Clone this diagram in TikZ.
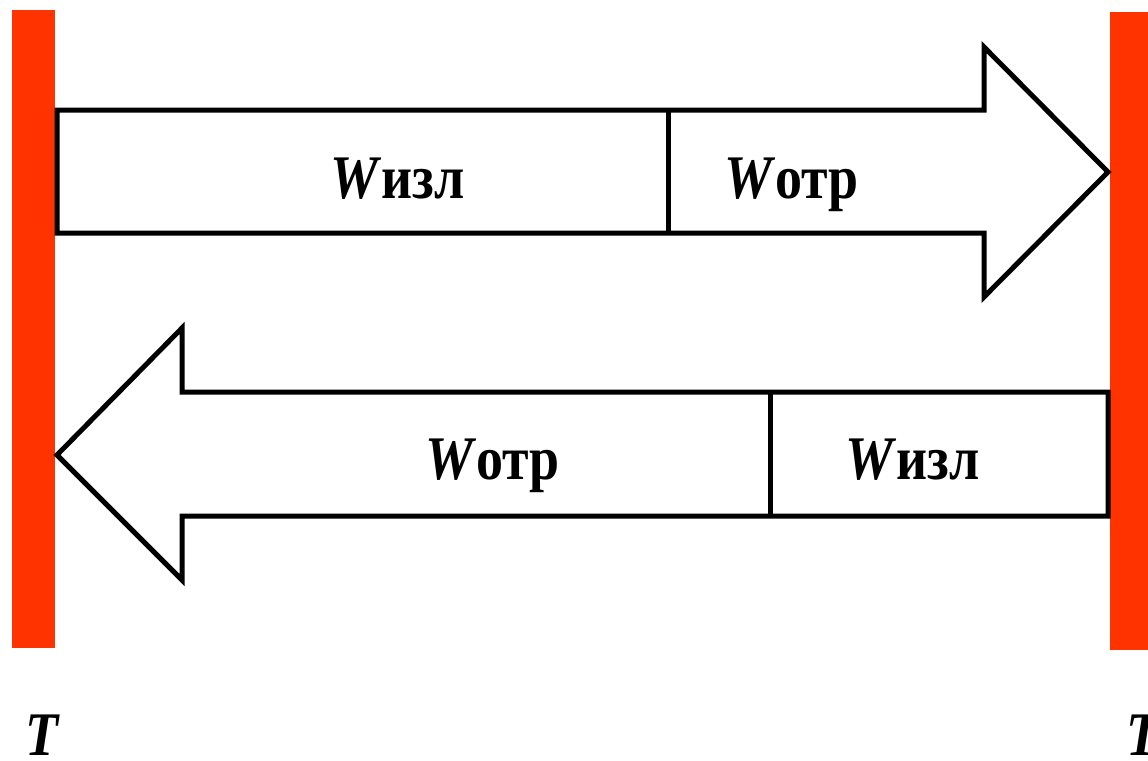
\documentclass[tikz,border=0pt]{standalone}
\usepackage{fontspec}
\usepackage{graphicx}
\setmainfont{Liberation Serif}
\definecolor{wallred}{HTML}{FF3300}
\newcommand{\narrow}[1]{\scalebox{0.87}[1]{#1}}
\tikzset{
  wall/.style={fill=wallred, draw=none},
  arrowshape/.style={draw=black, line width=5pt, fill=white, line join=miter},
  divider/.style={draw=black, line width=5pt},
  lbl/.style={anchor=base west, inner sep=0pt, font=\fontsize{62}{62}\selectfont\bfseries},
}
\begin{document}
\begin{tikzpicture}[x=1pt,y=-1pt]
\useasboundingbox (0,0) rectangle (1148,760);
% walls
\fill[wall] (12,10) rectangle (55,648);
\fill[wall] (1110,12) rectangle (1160,650);
% top arrow (right)
\draw[arrowshape] (57,110) -- (984,110) -- (984,47) -- (1108,172) -- (984,297) -- (984,233) -- (57,233) -- cycle;
\coordinate (d1t) at (668,110);
\coordinate (d1b) at (668,233);
\draw[divider] (d1t) -- (d1b);
% bottom arrow (left)
\draw[arrowshape] (1108,392) -- (182,392) -- (182,328) -- (57,455) -- (182,580) -- (182,516) -- (1108,516) -- cycle;
\coordinate (d2t) at (770,392);
\coordinate (d2b) at (770,516);
\draw[divider] (d2t) -- (d2b);
% labels
\node[lbl] (w1) at (330,198) {\narrow{\textit{W}изл}};
\node[lbl] (w2) at (724,198) {\narrow{\textit{W}отр}};
\node[lbl] (w3) at (425,479) {\narrow{\textit{W}отр}};
\node[lbl] (w4) at (845,479) {\narrow{\textit{W}изл}};
\node[lbl] (t1) at (25,755) {\narrow{\textit{T}}};
\node[lbl] (t2) at (1126,755) {\narrow{\textit{T}}};
\end{tikzpicture}
\end{document}
